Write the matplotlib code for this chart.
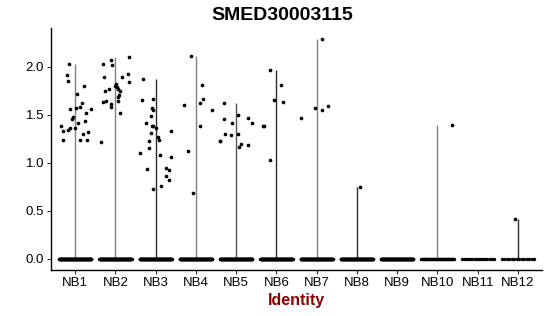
import matplotlib
matplotlib.use("Agg")
import matplotlib.pyplot as plt
import numpy as np

plt.rcParams['font.family'] = ['Liberation Sans', 'DejaVu Sans']

groups = ["NB1", "NB2", "NB3", "NB4", "NB5", "NB6",
          "NB7", "NB8", "NB9", "NB10", "NB11", "NB12"]

# non-zero expression values per group, with the jitter offset
nb1_vals = [2.03, 1.92, 1.85, 1.80, 1.72, 1.62, 1.56, 1.57, 1.58, 1.56, 1.52, 1.48, 1.46,
            1.44, 1.42, 1.39, 1.36, 1.36, 1.33, 1.34, 1.30, 1.32, 1.24, 1.24, 1.24]
nb1_jit = [-0.16, -0.21, -0.18, 0.23, 0.05, 0.17, -0.13, 0.02, 0.12, 0.40, 0.27, -0.06, -0.08,
           0.25, 0.08, -0.35, -0.01, -0.13, -0.31, -0.18, 0.20, 0.32, -0.30, 0.13, 0.30]
nb2_vals = [2.10, 2.07, 2.03, 2.02, 1.93, 1.89, 1.89, 1.84, 1.82, 1.80, 1.79, 1.77, 1.75,
            1.75, 1.77, 1.71, 1.69, 1.63, 1.65, 1.61, 1.58, 1.65, 1.52, 1.22]
nb2_jit = [0.35, -0.11, -0.31, -0.09, 0.32, -0.29, 0.16, 0.34, 0.01, -0.02, 0.04, 0.07, 0.12,
           -0.26, -0.16, 0.09, 0.07, -0.31, -0.24, -0.11, -0.12, 0.06, 0.12, -0.37]
nb3_vals = [1.87, 1.66, 1.67, 1.57, 1.55, 1.49, 1.42, 1.39, 1.38, 1.36, 1.33, 1.31, 1.27,
            1.24, 1.23, 1.16, 1.10, 1.08, 1.06, 0.94, 0.95, 0.93, 0.86, 0.82, 0.76, 0.73]
nb3_jit = [-0.32, -0.34, -0.07, -0.09, -0.06, -0.11, -0.24, -0.09, -0.06, 0.02, 0.37, -0.11, 0.06,
           0.09, -0.16, -0.17, -0.39, 0.12, 0.37, -0.22, 0.26, 0.34, 0.26, 0.32, 0.14, -0.06]
nb4_vals = [2.11, 1.81, 1.67, 1.62, 1.60, 1.55, 1.38, 1.12, 0.69]
nb4_jit = [-0.12, 0.16, 0.17, 0.11, -0.29, 0.39, 0.11, -0.19, -0.06]
nb5_vals = [1.62, 1.50, 1.47, 1.46, 1.42, 1.42, 1.30, 1.29, 1.30, 1.23, 1.23, 1.20, 1.17, 1.19]
nb5_jit = [-0.31, 0.04, 0.29, -0.29, -0.11, 0.39, -0.27, -0.12, 0.04, -0.39, -0.40, 0.11, 0.06, 0.30]
nb6_vals = [1.97, 1.81, 1.66, 1.64, 1.39, 1.38, 1.03]
nb6_jit = [-0.16, 0.11, -0.06, 0.17, -0.33, -0.32, -0.16]
nb7_vals = [2.29, 1.57, 1.55, 1.59, 1.47]
nb7_jit = [0.13, -0.05, 0.14, 0.29, -0.38]
nb8_vals = [0.75]
nb8_jit = [0.07]
nb9_vals = []
nb9_jit = []
nb10_vals = [1.40]
nb10_jit = [0.36]
nb11_vals = []
nb11_jit = []
nb12_vals = [0.42]
nb12_jit = [-0.07]

# number of cells with zero expression in each group
zero_counts = [150, 150, 150, 150, 150, 150, 150, 150, 150, 45, 16, 14]

values = [nb1_vals, nb2_vals, nb3_vals, nb4_vals, nb5_vals, nb6_vals,
          nb7_vals, nb8_vals, nb9_vals, nb10_vals, nb11_vals, nb12_vals]
jitters = [nb1_jit, nb2_jit, nb3_jit, nb4_jit, nb5_jit, nb6_jit,
           nb7_jit, nb8_jit, nb9_jit, nb10_jit, nb11_jit, nb12_jit]

# thin violins show up as grey or near black lines
line_colors = ["#808080", "#808080", "#2a2a2a", "#808080", "#555555", "#2a2a2a",
               "#808080", "#2a2a2a", "#2a2a2a", "#808080", "#2a2a2a", "#2a2a2a"]

fig = plt.figure(figsize=(5.5, 3.16), dpi=100)
ax = fig.add_axes([0.0927, 0.1456, 0.893, 0.7655])

all_max = 0
for i, g in enumerate(groups):
    pos = i + 1
    vals = values[i]
    top = max(vals) if vals else 0
    all_max = max(all_max, top)
    if top > 0:
        ax.vlines(pos, 0, top, color=line_colors[i], lw=1.0, zorder=1)
    n0 = zero_counts[i]
    ax.scatter(pos + np.linspace(-0.4, 0.4, n0), np.zeros(n0),
               s=6, color="black", linewidths=0, zorder=2)
    if vals:
        ax.scatter(pos + np.array(jitters[i]), vals,
                   s=7, color="black", linewidths=0, zorder=2)

pad = all_max * 0.05
ax.set_ylim(-pad, all_max + pad)
ax.set_xlim(0.4, len(groups) + 0.6)
ax.set_xticks(range(1, len(groups) + 1))
ax.set_xticklabels(groups)
ax.set_yticks([0.0, 0.5, 1.0, 1.5, 2.0])
ax.set_yticklabels(["0.0", "0.5", "1.0", "1.5", "2.0"])

for side in ["top", "right"]:
    ax.spines[side].set_visible(False)
for side in ["left", "bottom"]:
    ax.spines[side].set_linewidth(1.0)
    ax.spines[side].set_color("black")
ax.tick_params(axis="both", length=3, width=0.8, color="#333333",
               labelsize=9.5, labelcolor="black", pad=2)

ax.set_xlabel("Identity", fontsize=11.5, fontweight="bold", color="#8B0000", labelpad=3)
fig.text(282 / 550, 1 - 15 / 316, "SMED30003115", ha="center", va="center",
         fontsize=14, fontweight="bold")

plt.savefig("out.png", dpi=100)
